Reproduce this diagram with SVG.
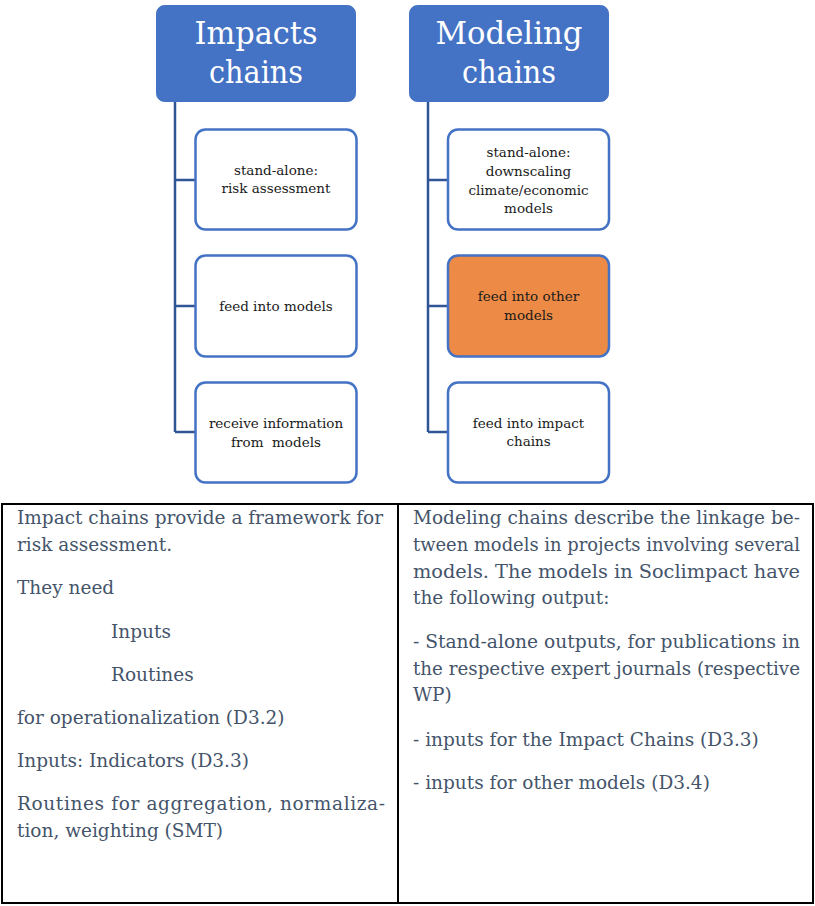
<svg xmlns="http://www.w3.org/2000/svg" width="815" height="906" viewBox="0 0 815 906">
<style>
.hdr{fill:#4472C4;stroke:#4472C4;stroke-width:1}
.hdrt{font-family:'DejaVu Serif',serif;font-size:32px;fill:#ffffff;text-anchor:middle}
.box{fill:#ffffff;stroke:#4472C4;stroke-width:2.5}
.boxo{fill:#ED8B46;stroke:#4472C4;stroke-width:2.5}
.bt{font-family:'DejaVu Serif',serif;font-size:13.5px;fill:#1a1a1a;text-anchor:middle}
.conn{fill:none;stroke:#2F5597;stroke-width:2.5}
.tbl{fill:none;stroke:#000000;stroke-width:2}
.tt{font-family:'DejaVu Serif',serif;font-size:18.5px;fill:#44546A}
</style>
<rect width="815" height="906" fill="#ffffff"/>
<g id="connectors">
<path class="conn" d="M175,102 V432 M175,180 H195 M175,306 H195 M175,432 H195"/>
<path class="conn" d="M428,102 V432 M428,180 H448 M428,306 H448 M428,432 H448"/>
</g>
<g id="impacts-chains">
<rect class="hdr" x="156.5" y="5.5" width="199" height="96" rx="8"/>
<text class="hdrt" x="256" y="44" textLength="123" lengthAdjust="spacingAndGlyphs">Impacts</text>
<text class="hdrt" x="256" y="83" textLength="94" lengthAdjust="spacingAndGlyphs">chains</text>
</g>
<g id="modeling-chains">
<rect class="hdr" x="409.5" y="5.5" width="199" height="96" rx="8"/>
<text class="hdrt" x="509" y="44" textLength="147" lengthAdjust="spacingAndGlyphs">Modeling</text>
<text class="hdrt" x="509" y="83" textLength="94" lengthAdjust="spacingAndGlyphs">chains</text>
</g>
<g id="ic-standalone">
<rect class="box" x="195.5" y="129.5" width="161" height="100" rx="10"/>
<text class="bt" x="276" y="175">stand-alone:</text>
<text class="bt" x="276" y="193">risk assessment</text>
</g>
<g id="ic-feed">
<rect class="box" x="195.5" y="255.5" width="161" height="101" rx="10"/>
<text class="bt" x="276" y="311">feed into models</text>
</g>
<g id="ic-receive">
<rect class="box" x="195.5" y="382.5" width="161" height="100" rx="10"/>
<text class="bt" x="276" y="428">receive information</text>
<text class="bt" x="276" y="447" xml:space="preserve">from  models</text>
</g>
<g id="mc-standalone">
<rect class="box" x="448" y="129.5" width="161" height="100" rx="10"/>
<text class="bt" x="528.5" y="157">stand-alone:</text>
<text class="bt" x="528.5" y="176">downscaling</text>
<text class="bt" x="528.5" y="195">climate/economic</text>
<text class="bt" x="528.5" y="213">models</text>
</g>
<g id="mc-feed-other">
<rect class="boxo" x="448" y="255.5" width="161" height="101" rx="10"/>
<text class="bt" x="528.5" y="301">feed into other</text>
<text class="bt" x="528.5" y="320">models</text>
</g>
<g id="mc-feed-impact">
<rect class="box" x="448" y="382.5" width="161" height="100" rx="10"/>
<text class="bt" x="528.5" y="428">feed into impact</text>
<text class="bt" x="528.5" y="446">chains</text>
</g>
<g id="table">
<rect class="tbl" x="2" y="504" width="811" height="399"/>
<line class="tbl" x1="398" y1="504" x2="398" y2="903"/>
<text class="tt" x="17" y="524" textLength="366" lengthAdjust="spacing">Impact chains provide a framework for</text>
<text class="tt" x="17" y="551">risk assessment.</text>
<text class="tt" x="17" y="594">They need</text>
<text class="tt" x="111" y="638">Inputs</text>
<text class="tt" x="111" y="681">Routines</text>
<text class="tt" x="17" y="724">for operationalization (D3.2)</text>
<text class="tt" x="17" y="767">Inputs: Indicators (D3.3)</text>
<text class="tt" x="17" y="810" textLength="368" lengthAdjust="spacing">Routines for aggregation, normaliza-</text>
<text class="tt" x="17" y="837">tion, weighting (SMT)</text>
<text class="tt" x="413" y="524" textLength="387" lengthAdjust="spacingAndGlyphs">Modeling chains describe the linkage be-</text>
<text class="tt" x="413" y="551" textLength="387" lengthAdjust="spacingAndGlyphs">tween models in projects involving several</text>
<text class="tt" x="413" y="578" textLength="387" lengthAdjust="spacingAndGlyphs">models. The models in Soclimpact have</text>
<text class="tt" x="413" y="604">the following output:</text>
<text class="tt" x="413" y="648" textLength="387" lengthAdjust="spacingAndGlyphs">- Stand-alone outputs, for publications in</text>
<text class="tt" x="413" y="675" textLength="387" lengthAdjust="spacingAndGlyphs">the respective expert journals (respective</text>
<text class="tt" x="413" y="701">WP)</text>
<text class="tt" x="413" y="746">- inputs for the Impact Chains (D3.3)</text>
<text class="tt" x="413" y="789">- inputs for other models (D3.4)</text>
</g>
</svg>
